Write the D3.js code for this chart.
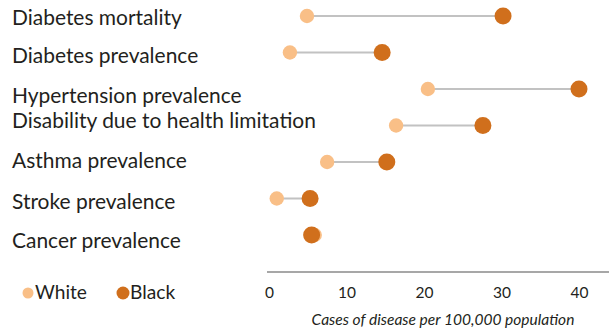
<!DOCTYPE html>
<html>
<head>
<meta charset="utf-8">
<script src="https://cdn.jsdelivr.net/npm/d3@7"></script>
<style>
  html, body { margin: 0; padding: 0; background: #fff; }
  svg { display: block; }
</style>
</head>
<body>
<svg id="chart" width="609" height="332"></svg>
<script>
// ---- data ----
const categories = [
  "Diabetes mortality",
  "Diabetes prevalence",
  "Hypertension prevalence",
  "Disability due to health limitation",
  "Asthma prevalence",
  "Stroke prevalence",
  "Cancer prevalence"
];
const whiteValues = [4.9, 2.7, 20.5, 16.4, 7.5, 1.0, 5.9];
const blackValues = [30.2, 14.6, 40.0, 27.6, 15.2, 5.3, 5.5];
const seriesNames = ["White", "Black"];
const tickValues = [0, 10, 20, 30, 40];
const axisTitle = "Cases of disease per 100,000 population";

// ---- layout / style ----
const colWhite = "#f9bf87";
const colBlack = "#d06f1c";
const FONT = "Lato, 'Open Sans', sans-serif";
const labelNudge = [9, 10, 14, 2, 6, 10, 13]; // baseline offset of each label from its row centre

const svg = d3.select("#chart");

const x = d3.scaleLinear().domain([0, 40]).range([269, 579]);
const y = d3.scalePoint().domain(categories).range([16, 235]);

const rows = categories.map((c, i) => ({ c, w: whiteValues[i], b: blackValues[i], i }));

// fit a text selection's font size so that a reference element reaches a target width
function fitWidth(sel, refNode, target) {
  const fs = parseFloat(sel.attr("font-size"));
  const len = refNode.getComputedTextLength();
  sel.attr("font-size", (fs * target / len).toFixed(2));
}

// category labels
const labels = svg.append("g").selectAll("text").data(rows).join("text")
  .attr("x", 12)
  .attr("y", d => y(d.c) + labelNudge[d.i])
  .attr("font-family", FONT)
  .attr("font-size", 18)
  .attr("fill", "#231f20")
  .text(d => d.c);
fitWidth(labels, labels.nodes()[3], 304);

// connecting lines
svg.append("g").selectAll("line").data(rows).join("line")
  .attr("x1", d => x(d.w))
  .attr("x2", d => x(d.b))
  .attr("y1", d => y(d.c))
  .attr("y2", d => y(d.c))
  .attr("stroke", "#c2c2c2")
  .attr("stroke-width", 2);

svg.append("g").selectAll("circle").data(rows).join("circle")
  .attr("cx", d => x(d.w))
  .attr("cy", d => y(d.c))
  .attr("r", 7.2)
  .attr("fill", colWhite);

svg.append("g").selectAll("circle").data(rows).join("circle")
  .attr("cx", d => x(d.b))
  .attr("cy", d => y(d.c))
  .attr("r", 8.5)
  .attr("fill", colBlack);

// x axis
const axis = d3.axisBottom(x).tickValues(tickValues).tickSize(0).tickPadding(0).tickFormat(d3.format("d"));
const gx = svg.append("g").attr("transform", "translate(0,272)").call(axis);
gx.select(".domain").remove();
gx.append("line")
  .attr("x1", 267).attr("x2", 609)
  .attr("y1", 0).attr("y2", 0)
  .attr("stroke", "#8a8a8a").attr("stroke-width", 1.5);
gx.selectAll(".tick text")
  .attr("y", 26)
  .attr("dy", 0)
  .attr("font-family", FONT)
  .attr("font-size", 15.5)
  .attr("fill", "#231f20");

const title = svg.append("text")
  .attr("x", 443)
  .attr("y", 325)
  .attr("text-anchor", "middle")
  .attr("font-family", FONT)
  .attr("font-style", "italic")
  .attr("font-size", 13)
  .attr("fill", "#231f20")
  .text(axisTitle);
fitWidth(title, title.node(), 263);

// legend
const legend = [
  { name: seriesNames[0], color: colWhite, cx: 28, r: 5.5 },
  { name: seriesNames[1], color: colBlack, cx: 123, r: 6.5 }
];
const lg = svg.append("g").selectAll("g").data(legend).join("g");
lg.append("circle")
  .attr("cx", d => d.cx).attr("cy", 293).attr("r", d => d.r)
  .attr("fill", d => d.color);
const lt = lg.append("text")
  .attr("x", d => d.cx + 7)
  .attr("y", 299)
  .attr("font-family", FONT)
  .attr("font-size", 16)
  .attr("fill", "#231f20")
  .text(d => d.name);
fitWidth(lt, lt.nodes()[0], 52);
</script>
</body>
</html>
